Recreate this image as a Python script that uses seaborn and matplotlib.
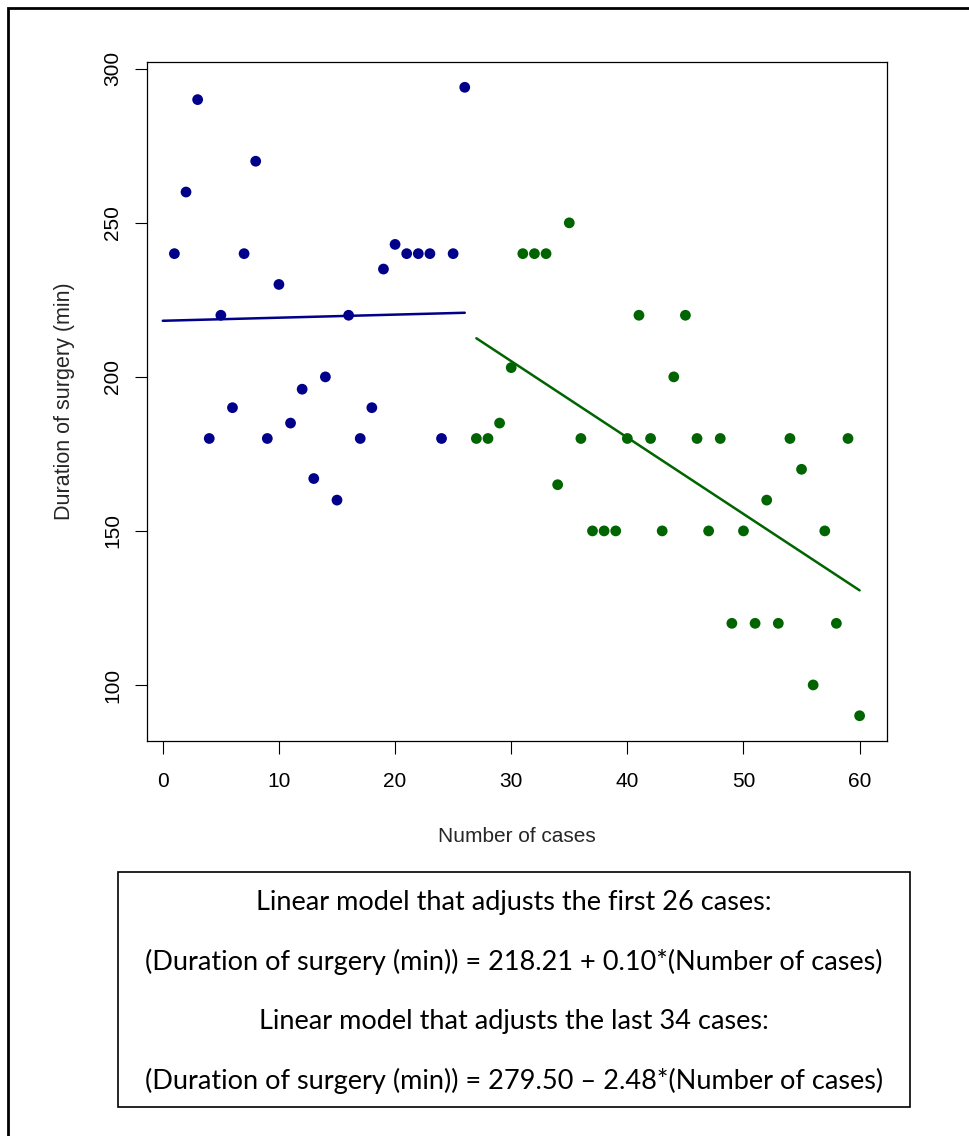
import pandas as pd
import seaborn as sns
import matplotlib.pyplot as plt
from matplotlib.patches import Rectangle

# data
cases_first = list(range(1, 27))
duration_first = [240, 260, 290, 180, 220, 190, 240, 270, 180, 230, 185, 196, 167,
                  200, 160, 220, 180, 190, 235, 243, 240, 240, 240, 180, 240, 294]
cases_last = list(range(27, 61))
duration_last = [180, 180, 185, 203, 240, 240, 240, 165, 250, 180, 150, 150, 150,
                 180, 220, 180, 150, 200, 220, 180, 150, 180, 120, 150, 120, 160,
                 120, 180, 170, 100, 150, 120, 180, 90]

# fitted models (coefficients as printed on the chart)
fit_first = (218.21, 0.10)
fit_last = (279.50, -2.48)
fit_first_range = [0, 26]
fit_last_range = [27, 60]

model_text = [
    "Linear model that adjusts the first 26 cases:",
    "(Duration of surgery (min)) = 218.21 + 0.10*(Number of cases)",
    "Linear model that adjusts the last 34 cases:",
    "(Duration of surgery (min)) = 279.50 \u2013 2.48*(Number of cases)",
]

BLUE = "#00008B"
GREEN = "#006400"

df = pd.DataFrame({
    "cases": cases_first + cases_last,
    "duration": duration_first + duration_last,
    "group": ["first"] * len(cases_first) + ["last"] * len(cases_last),
})

lines = pd.DataFrame({
    "cases": fit_first_range + fit_last_range,
    "duration": [fit_first[0] + fit_first[1] * x for x in fit_first_range]
                + [fit_last[0] + fit_last[1] * x for x in fit_last_range],
    "group": ["first", "first", "last", "last"],
})

sns.set_style("ticks")
plt.rcParams["font.family"] = ["Liberation Sans", "DejaVu Sans"]

fig = plt.figure(figsize=(9.69, 11.36), dpi=100)
ax = fig.add_axes([0.1517, 0.3477, 0.7637, 0.5977])

palette = {"first": BLUE, "last": GREEN}
sns.scatterplot(data=df, x="cases", y="duration", hue="group", palette=palette,
                s=60, edgecolor="none", linewidth=0, legend=False, ax=ax, zorder=3)
sns.lineplot(data=lines, x="cases", y="duration", hue="group", palette=palette,
             linewidth=1.8, legend=False, ax=ax, zorder=2)

ax.set_xlim(-1.36, 62.36)
ax.set_ylim(81.8, 302.2)
ax.set_xticks(range(0, 61, 10))
ax.set_yticks(range(100, 301, 50))
ax.tick_params(axis="both", direction="out", length=9, width=0.8, color="black",
               labelsize=15, labelcolor="black")
ax.tick_params(axis="x", pad=13)
ax.tick_params(axis="y", pad=9)
for lab in ax.get_yticklabels():
    lab.set_rotation(90)
    lab.set_va("center")
for sp in ax.spines.values():
    sp.set_visible(True)
    sp.set_color("black")
    sp.set_linewidth(0.9)

ax.set_xlabel("Number of cases", fontsize=15, labelpad=26)
ax.set_ylabel("Duration of surgery (min)", fontsize=15.5, labelpad=20)

# outer frame (only top/left edges visible in the reference)
fig.patches.append(Rectangle((8 / 969, -0.1), 1.2, 0.1 + (1 - 8 / 1136),
                             transform=fig.transFigure, fill=False,
                             edgecolor="black", linewidth=2, clip_on=False))

# model box under the plot
fig.patches.append(Rectangle((118 / 969, 1 - 1107 / 1136), 792 / 969, 235 / 1136,
                             transform=fig.transFigure, fill=False,
                             edgecolor="black", linewidth=1.2))
baselines = [910, 970, 1029, 1089]
for txt, yb in zip(model_text, baselines):
    fig.text(514 / 969, 1 - yb / 1136, txt, ha="center", va="baseline",
             fontsize=19.5, family=["Lato", "DejaVu Sans"], color="black")

plt.savefig("out.png", dpi=100)
